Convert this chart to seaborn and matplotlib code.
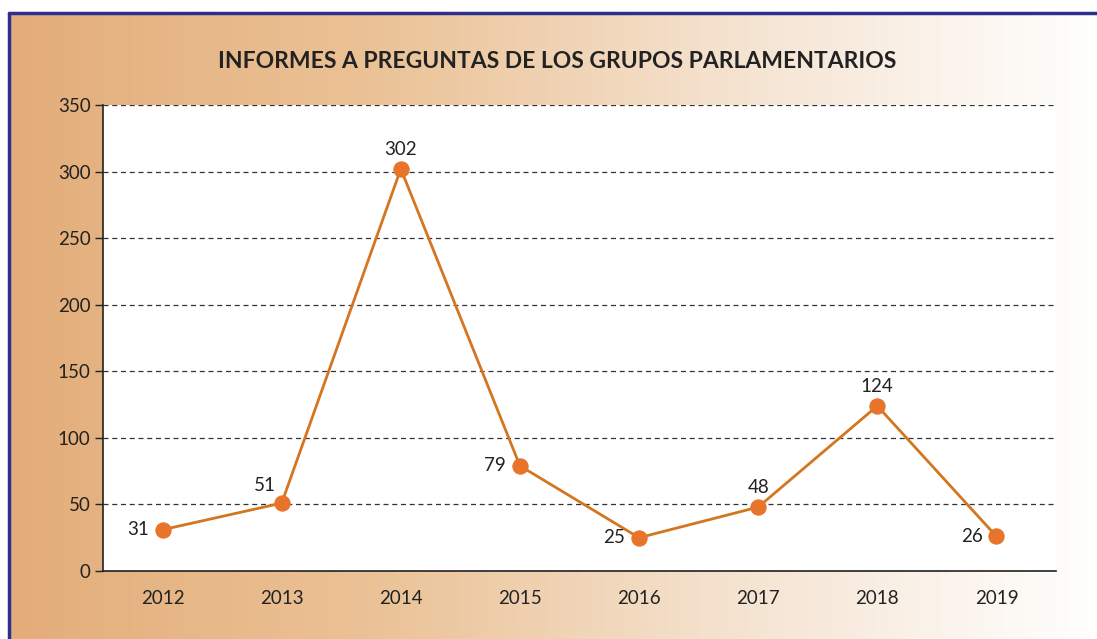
import numpy as np
import pandas as pd
import seaborn as sns
import matplotlib.pyplot as plt
from matplotlib.colors import LinearSegmentedColormap
from matplotlib.lines import Line2D

years = ['2012', '2013', '2014', '2015', '2016', '2017', '2018', '2019']
informes = [31, 51, 302, 79, 25, 48, 124, 26]
label_pos = ['left', 'upleft', 'top', 'left', 'left', 'top', 'top', 'left']

sns.set_style('white')
plt.rcParams['font.family'] = ['Lato', 'DejaVu Sans']

df = pd.DataFrame({'year': years, 'n': informes})
df['x'] = np.arange(len(years))

fig = plt.figure(figsize=(10.97, 6.39), dpi=100)

# gradient background with blue frame
bg = fig.add_axes([0, 0, 1, 1])
cmap = LinearSegmentedColormap.from_list('bg', ['#e3ad7a', '#ebc296', '#f5e3d0', '#ffffff'])
grad = np.linspace(0, 1, 512).reshape(1, -1)
bg.imshow(grad, cmap=cmap, aspect='auto', extent=[9 / 1097, 1, 0, 1 - 13 / 639])
bg.set_xlim(0, 1)
bg.set_ylim(0, 1)
bg.axis('off')
bg.add_line(Line2D([9 / 1097, 1], [1 - 13 / 639] * 2, color='#2e2e8f', lw=2.5))
bg.add_line(Line2D([9 / 1097] * 2, [0, 1 - 13 / 639], color='#2e2e8f', lw=2.5))

ax = fig.add_axes([103 / 1097, 68 / 639, 953 / 1097, 466 / 639])
ax.set_facecolor('white')
sns.lineplot(data=df, x='x', y='n', ax=ax, color='#d4761f', lw=2,
             marker='o', markersize=11, markerfacecolor='#e8732a',
             markeredgecolor='#e8732a', zorder=3)

ax.set_xlim(-0.5, len(years) - 0.5)
ax.set_ylim(0, 350)
ax.set_yticks(range(0, 351, 50))
ax.set_xticks(df['x'])
ax.set_xticklabels(years)
ax.set_xticks(np.arange(-0.5, len(years)), minor=True)
ax.tick_params(axis='x', which='major', length=0, pad=14, labelsize=13.5, colors='#222222')
ax.tick_params(axis='x', which='minor', length=6, width=1, color='#222222', direction='out')
ax.tick_params(axis='y', length=6, width=1, color='#222222', labelsize=13.5, labelcolor='#222222',
               direction='out', left=True, pad=3)
ax.yaxis.grid(True, ls=(0, (4, 3)), color='#333333', lw=0.9)
ax.set_axisbelow(True)
for s in ['top', 'right']:
    ax.spines[s].set_visible(False)
for s in ['left', 'bottom']:
    ax.spines[s].set_color('#222222')
    ax.spines[s].set_linewidth(1.2)
ax.set_xlabel('')
ax.set_ylabel('')

offsets = {'left': (-10, 0, 'right', 'center'),
           'upleft': (-4, 13, 'right', 'center'),
           'top': (0, 8, 'center', 'bottom')}
for x, v, p in zip(df['x'], informes, label_pos):
    dx, dy, ha, va = offsets[p]
    ax.annotate(str(v), (x, v), xytext=(dx, dy), textcoords='offset points',
                ha=ha, va=va, fontsize=13.5, color='#222222')

fig.text(557 / 1097, 1 - 62 / 639, 'INFORMES A PREGUNTAS DE LOS GRUPOS PARLAMENTARIOS',
         ha='center', va='center', fontsize=16.5, fontweight='bold', color='#222222')

fig.savefig('out.png', dpi=100)
